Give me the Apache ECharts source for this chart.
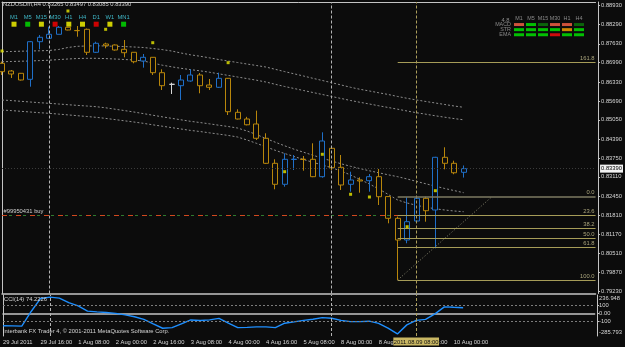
<!DOCTYPE html>
<html><head><meta charset="utf-8">
<script src="https://cdn.jsdelivr.net/npm/echarts@6/dist/echarts.min.js"></script>
<style>html,body{margin:0;padding:0;background:#0c0c0c}#c{width:625px;height:347px}</style>
</head><body><div id="c"></div>
<script>
// ---------------- data ----------------
const symbolName = 'NZDUSDm';
const timeframe = 'H4';
const tradingDays = ['2011.07.29','2011.08.01','2011.08.02','2011.08.03','2011.08.04','2011.08.05','2011.08.08','2011.08.09','2011.08.10'];
const sessionHours = ['00:00','04:00','08:00','12:00','16:00','20:00'];
const barCount = 50;
const futureBars = 14;
const monthNames = ['Jan','Feb','Mar','Apr','May','Jun','Jul','Aug','Sep','Oct','Nov','Dec'];

const opens = [0.86969,0.86707,0.86629,0.86425,0.87703,0.87819,0.87955,0.88192,0.88085,0.88124,
0.87343,0.87625,0.87591,0.87445,0.87343,0.87047,0.87173,0.86650,0.86255,0.86208,
0.86368,0.86572,0.86232,0.86154,0.86459,0.85304,0.85076,0.84907,0.84421,0.83571,
0.82858,0.83700,0.83712,0.83707,0.83116,0.84081,0.83435,0.82858,0.83004,0.82980,
0.83116,0.82440,0.81702,0.80965,0.81610,0.82382,0.81984,0.83775,0.83571,0.83265];
const closes = [0.86684,0.86606,0.86402,0.87703,0.87853,0.87955,0.88192,0.88101,0.88077,0.87343,
0.87649,0.87567,0.87421,0.87329,0.87023,0.87173,0.86650,0.86208,0.86255,0.86402,
0.86572,0.86208,0.86154,0.86459,0.85324,0.85076,0.84880,0.84421,0.83571,0.82858,
0.83707,0.83712,0.83700,0.83116,0.84329,0.83422,0.82834,0.83004,0.82970,0.83116,
0.82436,0.81702,0.80965,0.81587,0.82382,0.81960,0.83775,0.83571,0.83250,0.83390];
const lows = [0.86572,0.86470,0.86385,0.86174,0.87445,0.87819,0.87955,0.88090,0.87873,0.87251,
0.87320,0.87479,0.87400,0.87173,0.86969,0.86820,0.86572,0.86062,0.85926,0.85722,
0.86344,0.85950,0.86062,0.86130,0.85212,0.85060,0.84860,0.84363,0.83547,0.82688,
0.82776,0.83343,0.83320,0.83100,0.83082,0.83343,0.82664,0.82606,0.82572,0.82606,
0.82154,0.81532,0.79606,0.80853,0.81587,0.81587,0.80683,0.83367,0.83200,0.83085];
const highs = [0.87030,0.86741,0.86640,0.87727,0.87931,0.88213,0.88237,0.88220,0.88237,0.88150,
0.87703,0.87669,0.87610,0.87760,0.87343,0.87285,0.87180,0.86765,0.86310,0.86572,
0.86765,0.86640,0.86436,0.86650,0.86470,0.85406,0.85150,0.85360,0.84591,0.83707,
0.83911,0.83853,0.83819,0.84251,0.84624,0.84090,0.83853,0.83286,0.83095,0.83208,
0.83378,0.82446,0.81760,0.82416,0.82420,0.82436,0.83790,0.84115,0.83659,0.83497];
const neutralDojiBars = [18];

const maUpperA = [0.87363,0.87370,0.87380,0.87387,0.87394,0.87404,0.87438,0.87506,0.87547,0.87557,
0.87564,0.87557,0.87547,0.87537,0.87523,0.87506,0.87472,0.87435,0.87387,0.87319,
0.87258,0.87210,0.87156,0.87098,0.87047,0.86996,0.86945,0.86894,0.86843,0.86765,
0.86687,0.86612,0.86538,0.86459,0.86385,0.86310,0.86232,0.86154,0.86086,0.86028,
0.85967,0.85909,0.85841,0.85780,0.85722,0.85671,0.85620,0.85569,0.85518,0.85474];
const maUpperB = [0.87023,0.87030,0.87040,0.87047,0.87061,0.87074,0.87095,0.87115,0.87132,0.87139,
0.87139,0.87129,0.87115,0.87098,0.87081,0.87047,0.86979,0.86905,0.86850,0.86799,
0.86755,0.86714,0.86667,0.86612,0.86558,0.86504,0.86449,0.86395,0.86334,0.86256,
0.86181,0.86113,0.86045,0.85977,0.85909,0.85841,0.85773,0.85705,0.85644,0.85586,
0.85525,0.85467,0.85409,0.85348,0.85290,0.85239,0.85185,0.85137,0.85090,0.85049];
const maLowerA = [0.85722,0.85702,0.85678,0.85654,0.85630,0.85610,0.85586,0.85562,0.85539,0.85518,
0.85494,0.85457,0.85409,0.85362,0.85314,0.85260,0.85205,0.85151,0.85100,0.85049,
0.84998,0.84957,0.84913,0.84866,0.84821,0.84770,0.84669,0.84550,0.84414,0.84288,
0.84166,0.84050,0.83948,0.83846,0.83744,0.83649,0.83554,0.83469,0.83391,0.83316,
0.83248,0.83180,0.83116,0.83038,0.82956,0.82874,0.82793,0.82715,0.82644,0.82572];
const maLowerB = [0.85382,0.85362,0.85338,0.85314,0.85290,0.85270,0.85243,0.85216,0.85189,0.85161,
0.85134,0.85097,0.85056,0.85015,0.84974,0.84930,0.84879,0.84832,0.84784,0.84737,
0.84689,0.84652,0.84607,0.84563,0.84519,0.84465,0.84363,0.84251,0.84132,0.84013,
0.83904,0.83802,0.83700,0.83605,0.83513,0.83418,0.83309,0.83174,0.83021,0.82868,
0.82698,0.82511,0.82324,0.82222,0.82144,0.82079,0.82025,0.81984,0.81950,0.81926];

const markerBars = [0, 7, 11, 16, 24, 30, 34, 37, 39, 43, 46];
const markerPrices = [0.87387, 0.88746, 0.88124, 0.87669, 0.86990, 0.83286, 0.83877, 0.82518, 0.82426, 0.81417, 0.82640];

const cciValues = [-155,-157,-160,27,193,210,197,139,98,31,
22,14,3,-17,-40,-74,-132,-187,-179,-130,
-81,-88,-80,-61,-123,-179,-176,-170,-170,-179,
-123,-106,-87,-72,-51,-59,-87,-102,-102,-97,
-125,-185,-259,-144,-87,-74,-4,86,80,74.2226];
const cciPeriod = 14;
const cciLevels = [100, -100];
const cciTicks = [236.948, 100, 0, -100, -285.793];
const priceTicks = [0.8893,0.8829,0.8763,0.8699,0.8633,0.8569,0.8505,0.8439,0.8375,0.8311,0.8245,0.8181,0.8117,0.8051,0.7987,0.7923];

const fibLevels = [0.0, 23.6, 38.2, 50.0, 61.8, 100.0, 161.8];
const fibPrices = [0.82436, 0.81790, 0.81362, 0.81023, 0.80703, 0.79606, 0.87003];
const fibStartBar = 42;
const fibTrendBars = [42, 52];
const fibTrendPrices = [0.79606, 0.82436];

const orderPrice = 0.81790;
const orderLabel = '#99950431 buy';
const separatorBars = [5, 35];
const cursorBar = 44;

const mtfFrames = ['M1','M5','M15','M30','H1','H4','D1','W1','MN1'];
const mtfSignals = ['flat','up','flat','down','flat','flat','down','flat','up'];
const tableFrames = ['M1','M5','M15','M30','H1','H4'];
const tableRows = ['MACD','STR','EMA'];
const macdStates = ['weakDown','strongUp','weakUp','weakDown','weakDown','weakUp'];
const strStates  = ['strongUp','strongUp','strongUp','strongUp','neutral','strongUp'];
const emaStates  = ['strongUp','strongUp','strongUp','strongDown','strongUp','strongUp'];
const tableVersion = '4.8';
const copyright = 'Interbank FX Trader 4, \u00a9 2001-2011 MetaQuotes Software Corp.';

// ---------------- build ----------------
const times = tradingDays.flatMap(d => sessionHours.map(h => d + ' ' + h)).slice(0, barCount);
const cats = times.concat(Array.from({length: futureBars}, (_, i) => 'f' + i));
const candles = opens.map((o, i) => {
  const v = [o, closes[i], lows[i], highs[i]];
  if (neutralDojiBars.includes(i)) return {value: v, itemStyle: {borderColor: '#d8d8d8', borderColor0: '#d8d8d8'}};
  return v;
});
const last = barCount - 1;
const f5 = v => v.toFixed(5);
const header = `${symbolName},${timeframe} ${f5(opens[last])} ${f5(highs[last])} ${f5(lows[last])} ${f5(closes[last])}`;

function timeLabel(val, idx) {
  if (idx >= barCount) return '';
  const [d, h] = val.split(' ');
  const [y, m, dd] = d.split('.');
  const day = String(parseInt(dd, 10));
  if (idx === 0) return `${day} ${monthNames[+m - 1]} ${y}`;
  return `${day} ${monthNames[+m - 1]} ${h}`;
}

const FONT = 'Liberation Sans';
const TXT = '#d6d6d6';
const FS = 5.8;
const BORDER = '#c4c4c4';
const BG = '#0c0c0c';
const FIB = '#a69c58';
const sepStyle = {color: '#b4b4b4', type: [3, 2], width: 1};
const curStyle = {color: '#ad9f5c', type: [3, 2], width: 1};

const mtfPalette = {up: '#00e600', down: '#ff0000', flat: '#ffff00'};
const tablePalette = {strongUp: '#00ee00', weakUp: '#0b7a0b', weakDown: '#ff6447', strongDown: '#ff0c0c', neutral: '#ffa500'};
const tableStates = [macdStates, strStates, emaStates];

const fibLines = fibLevels.map((lv, i) => {
  const ls = lv === 0 ? {color: '#7c7a62', width: 1.6, type: 'solid'} : {color: FIB, width: 1, type: 'solid'};
  const lab = {show: true, position: 'insideEndTop', formatter: () => lv.toFixed(1), color: '#aaa47c', fontSize: FS, fontFamily: FONT, distance: 1};
  return [{coord: [fibStartBar, fibPrices[i]], lineStyle: ls, label: lab}, {coord: [cats.length - 1, fibPrices[i]], lineStyle: ls, label: lab}];
});

const mainMarkLines = [
  {yAxis: closes[last], lineStyle: {color: '#3c3c3c', type: [1, 2], width: 1},
   label: {show: true, position: 'end', formatter: () => f5(closes[last]), backgroundColor: '#f2f2f2', color: '#000', fontSize: FS, fontFamily: FONT, padding: [1.5, 1, 0.5, 1], distance: 4.5}},
  {yAxis: orderPrice, lineStyle: {color: '#2f7a2f', type: [3, 11], dashOffset: -7, width: 1}},
  {yAxis: orderPrice, lineStyle: {color: '#d2481e', type: [5, 9], width: 1},
   label: {show: true, position: 'insideStartTop', formatter: () => orderLabel, color: '#d0d0d0', fontSize: FS, fontFamily: FONT, distance: 1.5}},
  ...separatorBars.map(b => ({xAxis: b, lineStyle: sepStyle})),
  {xAxis: cursorBar, lineStyle: curStyle},
  ...fibLines
];

const cciMarkLines = [
  ...cciLevels.map(l => ({yAxis: l, lineStyle: {color: '#7c7c7c', type: [2, 2], width: 1}})),
  ...separatorBars.map(b => ({xAxis: b, lineStyle: sepStyle})),
  {xAxis: cursorBar, lineStyle: curStyle,
   label: {show: true, position: 'start', formatter: () => times[cursorBar], backgroundColor: '#c9b763', color: '#101010', fontSize: FS, fontFamily: FONT, padding: [1.5, 0.5, 0.5, 0.5], distance: 1.5}}
];

const maStyle = c => ({type: 'line', xAxisIndex: 0, yAxisIndex: 0, data: c, symbol: 'none', silent: true,
  lineStyle: {color: '#8e8e8e', width: 1, type: [2, 2]}, z: 2});

const txt = (text, left, top, color) => ({text, left, top, padding: 0,
  textStyle: {color: color || TXT, fontSize: FS, fontWeight: 'normal', fontFamily: FONT}});

const cciMax = cciTicks[0], cciMin = cciTicks[cciTicks.length - 1];
function cciLabel(v) {
  if (v === cciMax) return '{t|' + v.toFixed(3) + '}';
  if (v === cciMin) return '{b|' + v.toFixed(3) + '}';
  return v === 0 ? '0.00' : String(v);
}

const option = {
  backgroundColor: BG,
  animation: false,
  textStyle: {fontFamily: FONT},
  title: [
    txt(header, 3, 1.5),
    txt(`CCI(${cciPeriod}) ${cciValues[last]}`, 4, 296.5),
    txt(copyright, 3, 328.8),
    txt(tableVersion, 501.5, 17.6, '#8a8a8a')
  ],
  grid: [
    {left: 2, top: 2, width: 598.5, height: 291.5},
    {left: 2, top: 295, width: 598.5, height: 41},
    {left: 7.15, top: 21.7, width: 123.3, height: 5},
    {left: 513, top: 22, width: 72, height: 15.3}
  ],
  xAxis: [
    {type: 'category', gridIndex: 0, data: cats, boundaryGap: false,
     axisLine: {show: true, lineStyle: {color: BORDER, width: 1.5}}, axisTick: {show: false}, axisLabel: {show: false}, splitLine: {show: false}},
    {type: 'category', gridIndex: 0, data: cats, boundaryGap: false, position: 'top',
     axisLine: {show: true, lineStyle: {color: BORDER, width: 1}}, axisTick: {show: false}, axisLabel: {show: false}, splitLine: {show: false}},
    {type: 'category', gridIndex: 1, data: cats, boundaryGap: false,
     axisLine: {show: true, lineStyle: {color: BORDER, width: 1.5}}, axisTick: {show: false}, splitLine: {show: false},
     axisLabel: {interval: (i) => i % 4 === 0 && i < barCount, formatter: timeLabel, align: 'left', color: TXT, fontSize: FS, fontFamily: FONT, margin: 3}},
    {type: 'category', gridIndex: 2, data: mtfFrames, position: 'top',
     axisLine: {show: false}, axisTick: {show: false}, axisLabel: {color: '#3fb6c6', fontSize: FS, fontFamily: FONT, margin: 1.5, interval: 0}},
    {type: 'category', gridIndex: 3, data: tableFrames, position: 'top',
     axisLine: {show: false}, axisTick: {show: false}, axisLabel: {color: '#8a8a8a', fontSize: 5.4, fontFamily: FONT, margin: 0.5, interval: 0}}
  ],
  yAxis: [
    {type: 'value', gridIndex: 0, position: 'right', offset: 2.5, min: 0.79147, max: 0.89052, scale: true,
     axisLine: {show: true, lineStyle: {color: BORDER, width: 1}},
     axisTick: {show: true, length: 2, customValues: priceTicks, lineStyle: {color: BORDER}},
     axisLabel: {customValues: priceTicks, formatter: v => v.toFixed(5), color: TXT, fontSize: FS, fontFamily: FONT, margin: 3},
     splitLine: {show: false}},
    {type: 'value', gridIndex: 0, position: 'left', min: 0, max: 1,
     axisLine: {show: true, lineStyle: {color: BORDER, width: 1}}, axisTick: {show: false}, axisLabel: {show: false}, splitLine: {show: false}},
    {type: 'value', gridIndex: 1, position: 'right', offset: 2.5, min: cciMin, max: cciMax,
     axisLine: {show: true, lineStyle: {color: BORDER, width: 1}},
     axisTick: {show: true, length: 2, customValues: cciTicks.slice(1, -1), lineStyle: {color: BORDER}},
     axisLabel: {customValues: cciTicks, formatter: cciLabel, color: TXT, fontSize: FS, fontFamily: FONT, margin: 2,
                 rich: {t: {color: TXT, fontSize: FS, fontFamily: FONT, padding: [6, 0, 0, 0]},
                        b: {color: TXT, fontSize: FS, fontFamily: FONT, padding: [0, 0, 7, 0]}}},
     splitLine: {show: false}},
    {type: 'value', gridIndex: 1, position: 'left', min: 0, max: 1,
     axisLine: {show: true, lineStyle: {color: BORDER, width: 1}}, axisTick: {show: false}, axisLabel: {show: false}, splitLine: {show: false}},
    {type: 'category', gridIndex: 2, data: ['signal'], show: false},
    {type: 'category', gridIndex: 3, data: tableRows, inverse: true,
     axisLine: {show: false}, axisTick: {show: false}, axisLabel: {color: '#8a8a8a', fontSize: 5.4, fontFamily: FONT, margin: 2, interval: 0}}
  ],
  series: [
    maStyle(maUpperA), maStyle(maUpperB), maStyle(maLowerA), maStyle(maLowerB),
    {type: 'line', xAxisIndex: 0, yAxisIndex: 0, data: fibTrendBars.map((b, i) => [b, fibTrendPrices[i]]),
     symbol: 'none', silent: true, lineStyle: {color: '#8a8870', width: 1, type: [1, 2]}, z: 2},
    {type: 'candlestick', xAxisIndex: 0, yAxisIndex: 0, data: candles, barWidth: 5.5, clip: false, z: 3,
     itemStyle: {color: BG, color0: BG, borderColor: '#1f6fc8', borderColor0: '#b8860b', borderWidth: 1},
     markLine: {symbol: ['none', 'none'], precision: 6, silent: true, animation: false, label: {show: false}, data: mainMarkLines}},
    {type: 'scatter', xAxisIndex: 0, yAxisIndex: 0, data: markerBars.map((b, i) => [b, markerPrices[i]]),
     symbol: 'rect', symbolSize: 3, itemStyle: {color: '#e8e800'}, z: 5, silent: true},
    {type: 'line', xAxisIndex: 2, yAxisIndex: 2, data: cciValues, symbol: 'none', silent: true,
     lineStyle: {color: '#1e8fff', width: 1.4},
     markLine: {symbol: ['none', 'none'], precision: 6, silent: true, animation: false, label: {show: false}, data: cciMarkLines}},
    {type: 'scatter', xAxisIndex: 3, yAxisIndex: 4, symbol: 'rect', symbolSize: [5, 5], silent: true,
     data: mtfSignals.map((s, i) => ({value: [i, 0], itemStyle: {color: mtfPalette[s]}}))},
    {type: 'scatter', xAxisIndex: 4, yAxisIndex: 5, symbol: 'rect', symbolSize: [10, 3], silent: true,
     data: tableStates.flatMap((row, r) => row.map((s, c) => ({value: [c, r], itemStyle: {color: tablePalette[s]}})))}
  ]
};

const chart = echarts.init(document.getElementById('c'), null, {renderer: 'canvas'});
chart.setOption(option);
</script></body></html>
